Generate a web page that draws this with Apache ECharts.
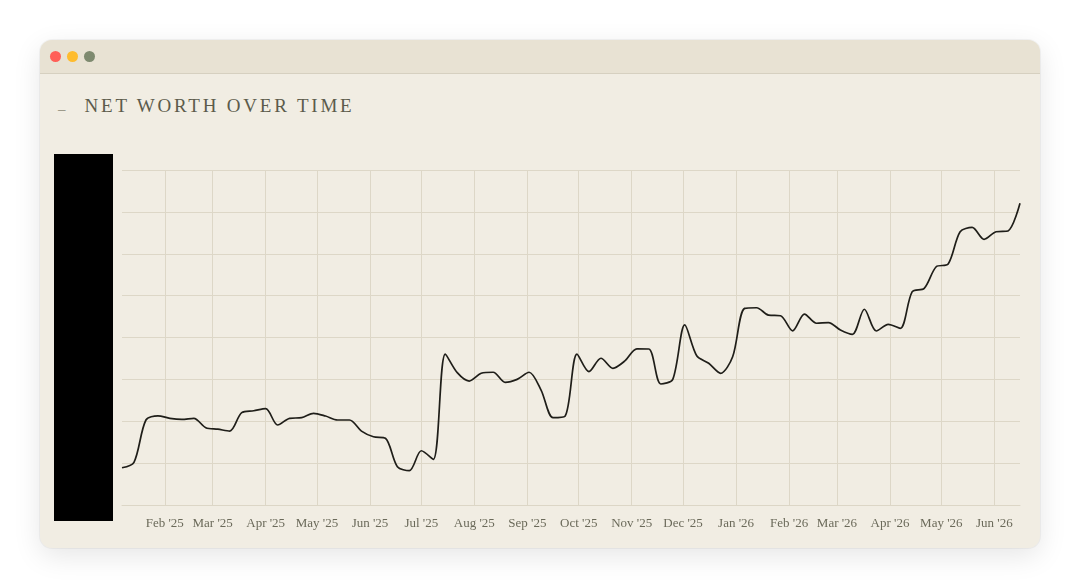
<!DOCTYPE html>
<html>
<head>
<meta charset="utf-8">
<script src="https://cdn.jsdelivr.net/npm/echarts@6/dist/echarts.min.js"></script>
<style>
  html, body { margin: 0; padding: 0; background: #ffffff; }
  #win {
    position: absolute; left: 40px; top: 40px; width: 1000px; height: 508px;
    background: #f1ede3; border-radius: 12px;
    box-shadow: 0 8px 28px rgba(0,0,0,0.10), 0 0 0 1px rgba(0,0,0,0.04);
    overflow: hidden;
  }
  #bar {
    position: absolute; left: 0; top: 0; width: 1000px; height: 33px;
    background: #e8e2d3; border-bottom: 1px solid #d6d0c0;
  }
  .dot { position: absolute; top: 11px; width: 11px; height: 11px; border-radius: 50%; }
  #title {
    position: absolute; left: 18px; top: 55px;
    font-family: 'Liberation Serif', serif; font-size: 19px; letter-spacing: 2.8px;
    color: #5c5b4b; white-space: nowrap;
  }
  #title span { color: #8a8776; font-size: 15px; margin-right: 19px; letter-spacing: 0; position: relative; top: 2px; }
  #main { position: absolute; left: 0; top: 0; width: 1080px; height: 588px; }
</style>
</head>
<body>
<div id="win">
  <div id="bar">
    <div class="dot" style="left:10px;background:#ff5f57"></div>
    <div class="dot" style="left:27px;background:#febc2e"></div>
    <div class="dot" style="left:44px;background:#7e8a6f"></div>
  </div>
  <div id="title"><span>–</span>NET WORTH OVER TIME</div>
</div>
<div id="main"></div>
<script>
// weekly snapshots
var dates = [
  '2025-01-07','2025-01-14','2025-01-21','2025-01-28',
  '2025-02-04','2025-02-11','2025-02-18','2025-02-25',
  '2025-03-04','2025-03-11','2025-03-18','2025-03-25',
  '2025-04-01','2025-04-08','2025-04-15','2025-04-22','2025-04-29',
  '2025-05-06','2025-05-13','2025-05-20','2025-05-27',
  '2025-06-03','2025-06-10','2025-06-17','2025-06-24',
  '2025-07-01','2025-07-08','2025-07-15','2025-07-22','2025-07-29',
  '2025-08-05','2025-08-12','2025-08-19','2025-08-26',
  '2025-09-02','2025-09-09','2025-09-16','2025-09-23','2025-09-30',
  '2025-10-07','2025-10-14','2025-10-21','2025-10-28',
  '2025-11-04','2025-11-11','2025-11-18','2025-11-25',
  '2025-12-02','2025-12-09','2025-12-16','2025-12-23','2025-12-30',
  '2026-01-06','2026-01-13','2026-01-20','2026-01-27',
  '2026-02-03','2026-02-10','2026-02-17','2026-02-24',
  '2026-03-03','2026-03-10','2026-03-17','2026-03-24','2026-03-31',
  '2026-04-07','2026-04-14','2026-04-21','2026-04-28',
  '2026-05-05','2026-05-12','2026-05-19','2026-05-26',
  '2026-06-02','2026-06-09','2026-06-16'
];
var netWorth = [
  17800, 20400, 40600, 42600, 41400, 40900, 41400, 36900,
  36200, 35300, 44100, 45000, 46000, 38200, 41400, 41700, 43800,
  42500, 40600, 40600, 35300, 32600, 31900, 18300, 16400,
  25900, 21800, 72100, 63200, 59200, 62900, 63400, 58600, 60000,
  63400, 54900, 41700, 42400, 72100, 63700, 70100, 65300, 68800,
  74600, 74500, 57800, 60000, 86000, 71300, 67700, 62900, 70800,
  93900, 94200, 90700, 90400, 83200, 91200, 86800, 87100,
  83600, 81500, 93500, 83100, 86300, 84400, 101900, 103500, 113800,
  115100, 130500, 132600, 126900, 130500, 130900, 144100
];
var monthNames = ['Jan','Feb','Mar','Apr','May','Jun','Jul','Aug','Sep','Oct','Nov','Dec'];

var seriesData = [];
for (var i = 0; i < dates.length; i++) {
  seriesData.push([dates[i], netWorth[i]]);
}

var myChart = echarts.init(document.getElementById('main'));

var option = {
  backgroundColor: 'transparent',
  animation: false,
  grid: { left: 122, right: 60, top: 170, bottom: 83 },
  xAxis: {
    type: 'time',
    min: dates[0],
    max: dates[dates.length - 1],
    splitNumber: 17,
    axisLine: { show: true, lineStyle: { color: '#dcd6c6', width: 1 } },
    axisTick: { show: false },
    splitLine: {
      show: true, showMinLine: false, showMaxLine: false,
      lineStyle: { color: '#ddd7c7', width: 1 }
    },
    axisLabel: {
      color: '#6b6a5a',
      fontFamily: 'Liberation Serif',
      fontSize: 13,
      margin: 12,
      showMinLabel: false,
      showMaxLabel: false,
      formatter: function (val) {
        var d = new Date(val);
        return monthNames[d.getMonth()] + " '" + String(d.getFullYear()).slice(2);
      }
    }
  },
  yAxis: {
    type: 'value',
    min: 0,
    max: 160000,
    interval: 20000,
    axisLine: { show: false },
    axisTick: { show: false },
    splitLine: { lineStyle: { color: '#ddd7c7', width: 1 } },
    axisLabel: { color: '#6b6a5a', fontFamily: 'Liberation Serif', fontSize: 13, margin: 16 }
  },
  graphic: [{
    type: 'rect',
    shape: { x: 54, y: 154, width: 59, height: 367 },
    style: { fill: '#000000' },
    z: 100
  }],
  series: [{
    type: 'line',
    data: seriesData,
    smooth: 0.3,
    showSymbol: false,
    lineStyle: { color: '#1f1e19', width: 1.7 }
  }]
};
myChart.setOption(option);
</script>
</body>
</html>
